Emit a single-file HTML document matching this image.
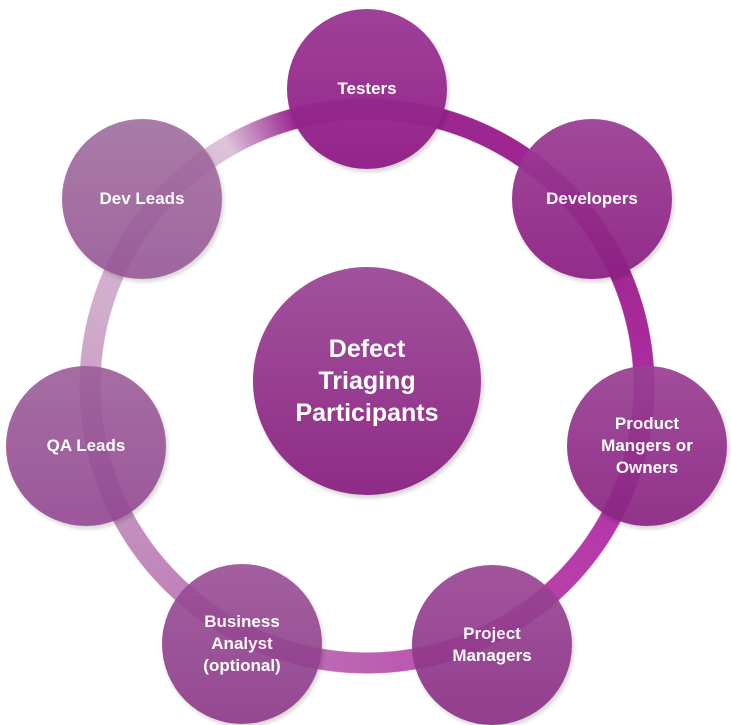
<!DOCTYPE html>
<html><head><style>
html,body{margin:0;padding:0;background:#fff;}
body{width:731px;height:720px;position:relative;overflow:hidden;font-family:"Liberation Sans",sans-serif;}
.ring{position:absolute;left:79px;top:98px;width:576px;height:576px;border-radius:50%;
background:conic-gradient(from 0deg,#9a2790 0deg,#a0268f 60deg,#b02fa5 100deg,#bb45ad 150deg,#bd6ab4 190deg,#c290bd 240deg,#d2aecd 290deg,#ddc2da 330deg,#9a2790 345deg);
-webkit-mask:radial-gradient(circle,transparent 266px,#000 267px,#000 287px,transparent 288px);
mask:radial-gradient(circle,transparent 266px,#000 267px,#000 287px,transparent 288px);}
.c{position:absolute;border-radius:50%;display:flex;align-items:center;justify-content:center;text-align:center;color:#fff;font-weight:bold;font-size:17px;line-height:22px;box-shadow:2px 3px 4px rgba(0,0,0,0.18);}
</style></head><body>
<div class="ring"></div>
<div class="c" style="left:287px;top:9px;width:160px;height:160px;background:linear-gradient(#9c3a95,#901c86);opacity:.96">Testers</div>
<div class="c" style="left:512px;top:119px;width:160px;height:160px;background:linear-gradient(#9c3e95,#8c1f83);opacity:.94">Developers</div>
<div class="c" style="left:567px;top:366px;width:160px;height:160px;background:linear-gradient(#9a4094,#8a2482);opacity:.93">Product<br>Mangers or<br>Owners</div>
<div class="c" style="left:412px;top:565px;width:160px;height:160px;background:linear-gradient(#9a4795,#892e84);opacity:.92">Project<br>Managers</div>
<div class="c" style="left:162px;top:564px;width:160px;height:160px;background:linear-gradient(#9a5096,#8b3787);opacity:.91">Business<br>Analyst<br>(optional)</div>
<div class="c" style="left:6px;top:366px;width:160px;height:160px;background:linear-gradient(#9d5e99,#914590);opacity:.9">QA Leads</div>
<div class="c" style="left:62px;top:119px;width:160px;height:160px;background:linear-gradient(#9e6a9b,#935192);opacity:.88">Dev Leads</div>
<div class="c" style="left:253px;top:267px;width:228px;height:228px;background:linear-gradient(#a1529c,#8f2b87);font-size:25px;line-height:32px">Defect<br>Triaging<br>Participants</div>
</body></html>
